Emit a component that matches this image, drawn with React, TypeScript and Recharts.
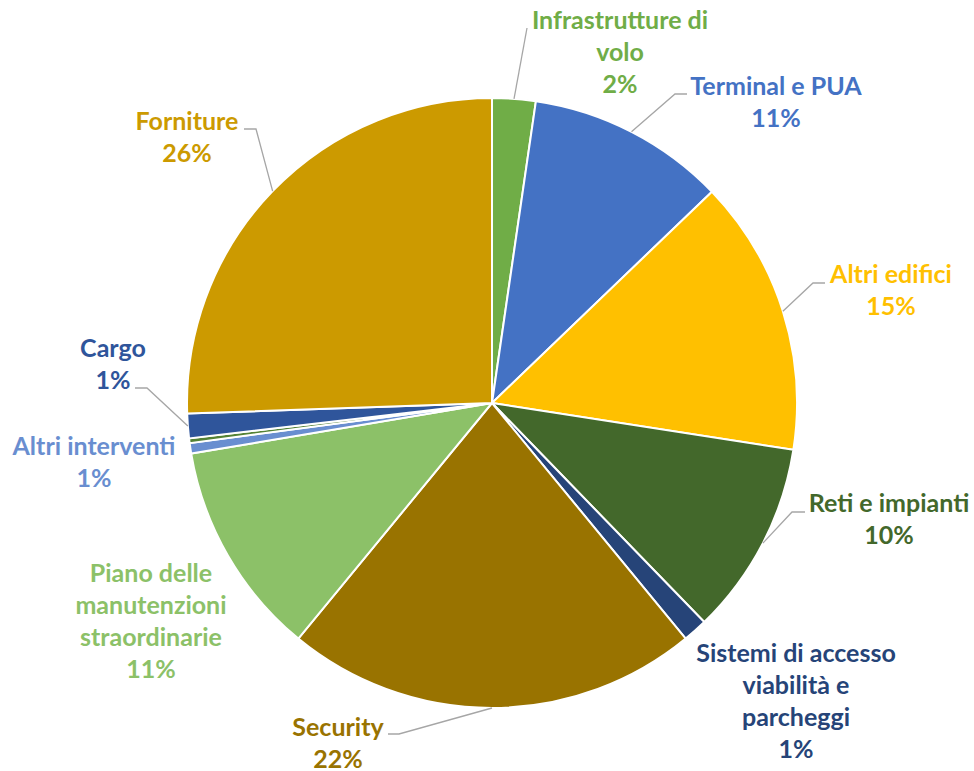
import React from "react";
import { PieChart, Pie, Cell } from "recharts";

const categories = [
  "Infrastrutture di volo",
  "Terminal e PUA",
  "Altri edifici",
  "Reti e impianti",
  "Sistemi di accesso viabilità e parcheggi",
  "Security",
  "Piano delle manutenzioni straordinarie",
  "Altri interventi",
  "Altro",
  "Cargo",
  "Forniture",
];

const values = [2.3, 10.52, 14.63, 10.3, 1.3, 21.9, 11.4, 0.55, 0.25, 1.3, 25.55];

const labelLines = [
  ["Infrastrutture di", "volo"],
  ["Terminal e PUA"],
  ["Altri edifici"],
  ["Reti e impianti"],
  ["Sistemi di accesso", "viabilità e", "parcheggi"],
  ["Security"],
  ["Piano delle", "manutenzioni", "straordinarie"],
  ["Altri interventi"],
  [],
  ["Cargo"],
  ["Forniture"],
];

const sliceColors = [
  "#70AD47",
  "#4472C4",
  "#FFC000",
  "#43682B",
  "#264478",
  "#997300",
  "#8CC168",
  "#698ED0",
  "#548235",
  "#2F559B",
  "#CC9A00",
];

const textColors = [
  "#70AD47",
  "#4472C4",
  "#FFC000",
  "#43682B",
  "#264478",
  "#997300",
  "#8CC168",
  "#698ED0",
  "#548235",
  "#2F559B",
  "#CC9A00",
];

// label layout: text center offset (dx), first baseline offset (dy) relative to pie center,
// leader elbow/end points relative to pie center (null = no leader)
type Layout = { dx: number; dy: number; leader: number[][] | null } | null;
const labelLayout: Layout[] = [
  { dx: 128, dy: -374, leader: [[35, -375]] },
  { dx: 284, dy: -308, leader: [[183, -309], [195, -309]] },
  { dx: 399, dy: -120, leader: [[321, -120], [333, -120]] },
  { dx: 397, dy: 109, leader: [[300, 109], [313, 109]] },
  { dx: 304, dy: 259, leader: null },
  { dx: -154, dy: 333, leader: [[-93, 331], [-104, 331]] },
  { dx: -341, dy: 179, leader: null },
  { dx: -398, dy: 52, leader: null },
  null,
  { dx: -379, dy: -46, leader: [[-345, -15], [-357, -15]] },
  { dx: -305, dy: -273, leader: [[-236, -274], [-248, -274]] },
];

const data = categories.map((name, i) => ({ name, value: values[i] }));

const RADIAN = Math.PI / 180;
const LINE_H = 32;

const renderLabel = (props: any) => {
  const { cx, cy, midAngle, outerRadius, index, percent } = props;
  const layout = labelLayout[index];
  if (!layout) return null;
  const sx = cx + outerRadius * Math.cos(-midAngle * RADIAN);
  const sy = cy + outerRadius * Math.sin(-midAngle * RADIAN);
  const lines = [...labelLines[index], `${Math.round(percent * 100)}%`];
  const color = textColors[index];
  return (
    <g>
      {layout.leader && (
        <polyline
          points={[[sx, sy], ...layout.leader.map(([x, y]) => [cx + x, cy + y])]
            .map((p) => p.join(","))
            .join(" ")}
          fill="none"
          stroke="#A6A6A6"
          strokeWidth={1.3}
        />
      )}
      <text
        x={cx + layout.dx}
        y={cy + layout.dy}
        textAnchor="middle"
        fill={color}
        fontFamily="Lato, 'Open Sans', sans-serif"
        fontWeight={700}
        fontSize={25}
      >
        {lines.map((l, i) => (
          <tspan key={i} x={cx + layout.dx} y={cy + layout.dy + i * LINE_H}>
            {l}
          </tspan>
        ))}
      </text>
    </g>
  );
};

export default function App() {
  return (
    <div style={{ position: "absolute", left: 0, top: 0, width: 974, height: 771, background: "#fff" }}>
      <PieChart width={974} height={771} margin={{ top: 0, right: 0, bottom: 0, left: 0 }}>
        <Pie
          data={data}
          dataKey="value"
          nameKey="name"
          cx={492}
          cy={403}
          outerRadius={305}
          startAngle={90}
          endAngle={-270}
          stroke="#ffffff"
          strokeWidth={2}
          label={renderLabel}
          labelLine={false}
          isAnimationActive={false}
        >
          {data.map((d, i) => (
            <Cell key={d.name} fill={sliceColors[i]} />
          ))}
        </Pie>
      </PieChart>
    </div>
  );
}
